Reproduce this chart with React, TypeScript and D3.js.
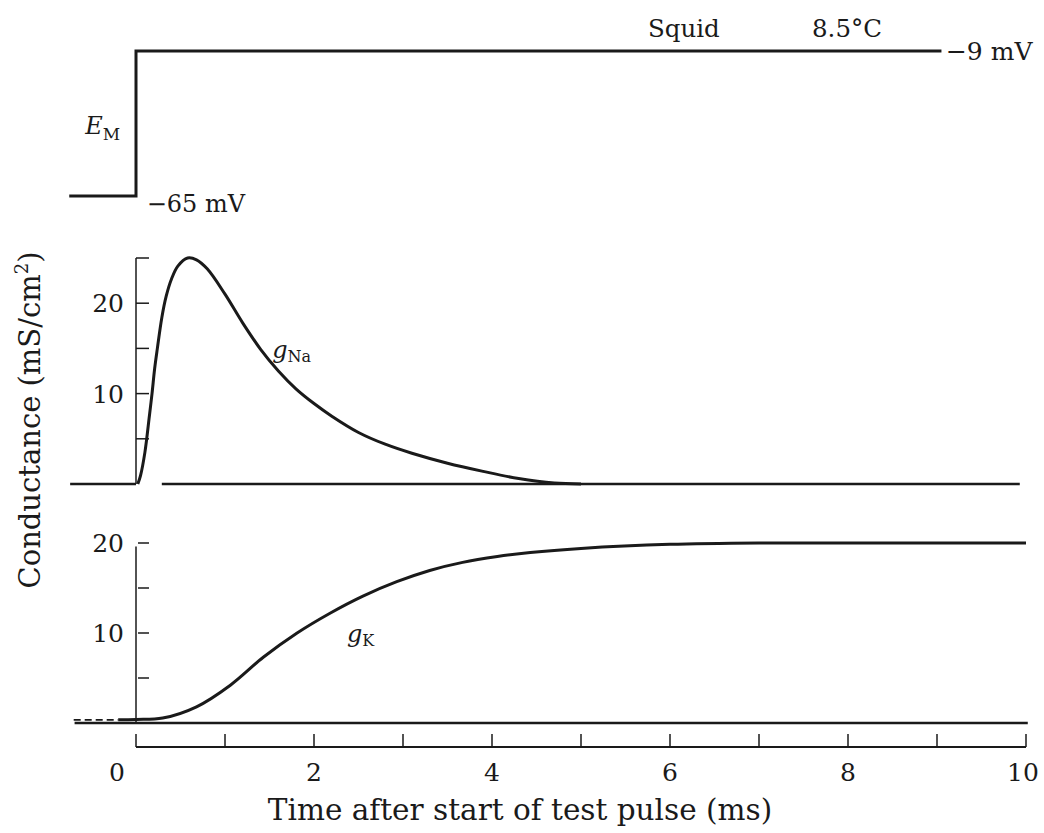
import React from "react";
import * as d3 from "d3";

// ---- data ----
const timeTicks = [0, 1, 2, 3, 4, 5, 6, 7, 8, 9, 10];
const timeTickLabels = [0, 2, 4, 6, 8, 10];

const stepTime = [-0.75, 0, 0, 9.05];
const stepVoltage = [-65, -65, -9, -9];

const naTime = [0.02, 0.05, 0.1, 0.15, 0.18, 0.21, 0.24, 0.29, 0.34, 0.4, 0.47, 0.58, 0.68, 0.8, 1.0, 1.2, 1.4, 1.6, 1.8, 2.0, 2.2, 2.5, 2.8, 3.1, 3.5, 3.9, 4.3, 4.7, 5.0];
const naValues = [0, 0.9, 3.5, 7.5, 10, 12.8, 15, 18.4, 20.8, 22.7, 24.1, 25, 24.8, 23.8, 21.0, 17.8, 14.9, 12.5, 10.5, 8.9, 7.5, 5.7, 4.4, 3.4, 2.3, 1.4, 0.6, 0.1, 0];

const kTime = [-0.2, 0, 0.3, 0.68, 1.06, 1.43, 1.81, 2.18, 2.55, 2.93, 3.3, 3.67, 4.06, 4.43, 5, 6, 7, 8, 9, 10];
const kValues = [0.35, 0.4, 0.55, 1.8, 4.2, 7.3, 10, 12.2, 14.1, 15.7, 16.95, 17.85, 18.5, 18.95, 19.4, 19.85, 20, 20, 20, 20];

const naTicks = [5, 10, 15, 20, 25];
const naTickLabels = [10, 20];
const kTicks = [5, 10, 15, 20];
const kTickLabels = [10, 20];

const FONT = "'DejaVu Serif', serif";
const INK = "#1a1a1a";

export default function App() {
  const x = d3.scaleLinear().domain([0, 10]).range([136, 1026]);
  const yV = d3.scaleLinear().domain([-65, -9]).range([196, 51]);
  const yNa = d3.scaleLinear().domain([0, 25]).range([484, 258]);
  const yK = d3.scaleLinear().domain([0, 20]).range([723, 543]);

  const stepPath = d3.line<number>().x((_, i) => x(stepTime[i])).y((v) => yV(v))(stepVoltage) || "";
  const naPath =
    d3
      .line<number>()
      .x((_, i) => x(naTime[i]))
      .y((v) => yNa(v))
      .curve(d3.curveCatmullRom.alpha(0.5))(naValues) || "";
  const kPath =
    d3
      .line<number>()
      .x((_, i) => x(kTime[i]))
      .y((v) => yK(v))
      .curve(d3.curveCatmullRom.alpha(0.5))(kValues) || "";

  const axisY = 747;
  const tickLen = 13;

  return (
    <svg width={1044} height={833} style={{ display: "block", position: "absolute", left: 0, top: 0, background: "#fff" }}>
      {/* ---- voltage step ---- */}
      <path d={stepPath} fill="none" stroke={INK} strokeWidth={3} />
      <text x={x(-0.57)} y={yV(-37) + 10} fontFamily={FONT} fontSize={24} fontStyle="italic" fill={INK}>
        E
        <tspan fontStyle="normal" fontSize={17} dy={6}>M</tspan>
      </text>
      <text x={x(0.12)} y={yV(-65) + 16} fontFamily={FONT} fontSize={24} fill={INK}>
        −65 mV
      </text>
      <text x={x(9.1)} y={yV(-9) + 9} fontFamily={FONT} fontSize={25} fill={INK}>
        −9 mV
      </text>
      <text x={648} y={37} fontFamily={FONT} fontSize={24.5} fill={INK}>
        Squid
      </text>
      <text x={812} y={37} fontFamily={FONT} fontSize={24.5} fill={INK}>
        8.5°C
      </text>

      {/* ---- gNa panel ---- */}
      <line x1={x(0)} x2={x(0)} y1={yNa(0)} y2={yNa(25)} stroke={INK} strokeWidth={1.5} />
      {naTicks.map((t) => (
        <line key={"nt" + t} x1={x(0)} x2={x(0) + 13} y1={yNa(t)} y2={yNa(t)} stroke={INK} strokeWidth={1.5} />
      ))}
      {naTickLabels.map((t) => (
        <text key={"nl" + t} x={x(0) - 12} y={yNa(t) + 9} textAnchor="end" fontFamily={FONT} fontSize={25} fill={INK}>
          {t}
        </text>
      ))}
      <line x1={x(-0.74)} x2={x(0)} y1={yNa(0)} y2={yNa(0)} stroke={INK} strokeWidth={2.5} />
      <line x1={x(0.29)} x2={x(9.93)} y1={yNa(0)} y2={yNa(0)} stroke={INK} strokeWidth={2.5} />
      <path d={naPath} fill="none" stroke={INK} strokeWidth={3} />
      <text x={x(1.53)} y={yNa(15) + 10} fontFamily={FONT} fontSize={24} fontStyle="italic" fill={INK}>
        g
        <tspan fontStyle="normal" fontSize={16} dy={4}>Na</tspan>
      </text>

      {/* ---- gK panel ---- */}
      <line x1={x(0)} x2={x(0)} y1={yK(0)} y2={yK(19.6)} stroke={INK} strokeWidth={1.5} />
      {kTicks.map((t) => (
        <line key={"kt" + t} x1={x(0) + 2} x2={x(0) + 13} y1={yK(t)} y2={yK(t)} stroke={INK} strokeWidth={1.5} />
      ))}
      {kTickLabels.map((t) => (
        <text key={"kl" + t} x={x(0) - 12} y={yK(t) + 9} textAnchor="end" fontFamily={FONT} fontSize={25} fill={INK}>
          {t}
        </text>
      ))}
      <line x1={x(-0.69)} x2={x(10.02)} y1={yK(0)} y2={yK(0)} stroke={INK} strokeWidth={2.5} />
      <line x1={x(-0.7)} x2={x(-0.2)} y1={yK(0.35)} y2={yK(0.35)} stroke={INK} strokeWidth={1.8} strokeDasharray="7,4" />
      <path d={kPath} fill="none" stroke={INK} strokeWidth={3} />
      <text x={x(2.37)} y={yK(10) + 9} fontFamily={FONT} fontSize={24} fontStyle="italic" fill={INK}>
        g
        <tspan fontStyle="normal" fontSize={16} dy={4}>K</tspan>
      </text>

      {/* ---- y label ---- */}
      <text
        transform={`translate(40, 420) rotate(-90)`}
        textAnchor="middle"
        fontFamily={FONT}
        fontSize={29}
        fill={INK}
      >
        Conductance (mS/cm
        <tspan fontSize={18} dy={-12}>2</tspan>
        <tspan dy={12}>)</tspan>
      </text>

      {/* ---- time axis ---- */}
      <line x1={x(0)} x2={x(10)} y1={axisY} y2={axisY} stroke={INK} strokeWidth={2} />
      {timeTicks.map((t) => (
        <line key={"tt" + t} x1={x(t)} x2={x(t)} y1={axisY} y2={axisY - tickLen} stroke={INK} strokeWidth={1.5} />
      ))}
      {timeTickLabels.map((t) => (
        <text
          key={"tl" + t}
          x={t === 0 ? x(t) - 19 : x(t) - (t === 10 ? 3 : 0)}
          y={781}
          textAnchor="middle"
          fontFamily={FONT}
          fontSize={25}
          fill={INK}
        >
          {t}
        </text>
      ))}
      <text x={520} y={820} textAnchor="middle" fontFamily={FONT} fontSize={29.5} fill={INK}>
        Time after start of test pulse (ms)
      </text>
    </svg>
  );
}
